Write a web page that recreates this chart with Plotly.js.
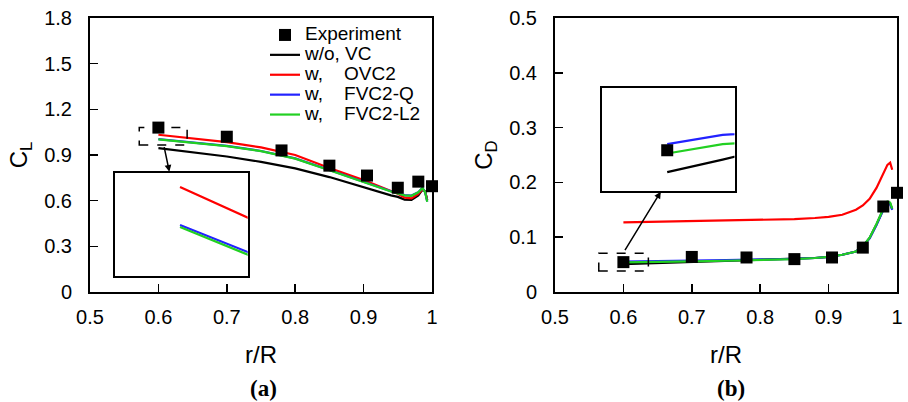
<!DOCTYPE html>
<html><head><meta charset="utf-8">
<script src="https://cdn.plot.ly/plotly-3.0.1.min.js"></script>
<style>html,body{margin:0;padding:0;background:#fff}#chart{width:908px;height:402px}</style>
</head><body><div id="chart"></div>
<script>
// ---- data ----
const rSim     = [0.6, 0.65, 0.7, 0.75, 0.8, 0.85, 0.88, 0.9, 0.92, 0.94, 0.95, 0.96, 0.97, 0.98, 0.986, 0.99, 0.993];
const clNoVC   = [0.945, 0.920, 0.890, 0.855, 0.812, 0.755, 0.715, 0.685, 0.660, 0.635, 0.625, 0.607, 0.605, 0.635, 0.672, 0.660, 0.604];
const clOVC2   = [1.033, 1.008, 0.984, 0.950, 0.900, 0.815, 0.768, 0.735, 0.700, 0.662, 0.645, 0.620, 0.615, 0.645, 0.675, 0.660, 0.605];
const clFVC2Q  = [1.0045, 0.9825, 0.9595, 0.9265, 0.8775, 0.8015, 0.7535, 0.7235, 0.6915, 0.6615, 0.6495, 0.6365, 0.6335, 0.656, 0.684, 0.656, 0.594];
const clFVC2L2 = [1.003, 0.981, 0.958, 0.925, 0.876, 0.800, 0.752, 0.722, 0.690, 0.660, 0.648, 0.635, 0.632, 0.655, 0.683, 0.655, 0.593];

const cdNoVC   = [0.051, 0.053, 0.0552, 0.0574, 0.0584, 0.0602, 0.062, 0.064, 0.068, 0.074, 0.083, 0.0985, 0.123, 0.151, 0.1635, 0.1615, 0.151];
const cdOVC2   = [0.127, 0.128, 0.129, 0.130, 0.131, 0.133, 0.135, 0.137, 0.141, 0.150, 0.158, 0.170, 0.190, 0.215, 0.232, 0.236, 0.223];
const cdFVC2Q  = [0.0555, 0.057, 0.0575, 0.058, 0.059, 0.0605, 0.062, 0.064, 0.068, 0.074, 0.083, 0.098, 0.122, 0.150, 0.162, 0.160, 0.150];
const cdFVC2L2 = [0.054, 0.0555, 0.056, 0.057, 0.058, 0.060, 0.062, 0.064, 0.068, 0.074, 0.083, 0.099, 0.124, 0.152, 0.165, 0.163, 0.152];

const rExp  = [0.6, 0.7, 0.78, 0.85, 0.905, 0.95, 0.98, 1.0];
const clExp = [1.08, 1.02, 0.93, 0.83, 0.765, 0.685, 0.725, 0.695];
const cdExp = [0.0545, 0.064, 0.063, 0.060, 0.063, 0.081, 0.156, 0.181];

const seriesNames = ['Experiment', 'w/o, VC', 'w,\u00a0\u00a0\u00a0\u00a0OVC2', 'w,\u00a0\u00a0\u00a0\u00a0FVC2-Q', 'w,\u00a0\u00a0\u00a0\u00a0FVC2-L2'];
const seriesColors = ['#000000', '#000000', '#ff0000', '#2222ff', '#22d022'];

const xTickVals = [0.5, 0.6, 0.7, 0.8, 0.9, 1.0];
const xTickText = ['0.5', '0.6', '0.7', '0.8', '0.9', '1'];
const clTickVals = [0, 0.3, 0.6, 0.9, 1.2, 1.5, 1.8];
const clTickText = ['0', '0.3', '0.6', '0.9', '1.2', '1.5', '1.8'];
const cdTickVals = [0, 0.1, 0.2, 0.3, 0.4, 0.5];
const cdTickText = ['0', '0.1', '0.2', '0.3', '0.4', '0.5'];

// zoom windows (data coords) and inset ranges
const clZoomBox = {x: [0.572, 0.642], y: [0.966, 1.08]};
const cdZoomBox = {x: [0.564, 0.6365], y: [0.0383, 0.0706]};
const clInsetX = [0.5559, 0.6459], clInsetY = [0.9663, 1.0438];
const cdInsetX = [0.5407, 0.6607], cdInsetY = [0.048, 0.0645];

// ---- build ----
const FONT = 'Liberation Sans, Arial, Helvetica, sans-serif';
const simCL = [clNoVC, clOVC2, clFVC2Q, clFVC2L2];
const simCD = [cdNoVC, cdOVC2, cdFVC2Q, cdFVC2L2];
const traces = [];
function addSet(xa, ya, sims, exp, legend, clipExp) {
  sims.forEach((ys, i) => {
    traces.push({x: rSim, y: ys, xaxis: xa, yaxis: ya, mode: 'lines', type: 'scatter',
      name: '<span style="font-size:19px">' + seriesNames[i + 1] + '</span>',
      legendgroup: 'g' + i, showlegend: legend, legendrank: i + 2,
      line: {color: seriesColors[i + 1], width: 2.2}, hoverinfo: 'skip'});
  });
  if (exp) traces.push({x: rExp, y: exp, xaxis: xa, yaxis: ya, mode: 'markers', type: 'scatter',
      name: '<span style="font-size:19px">' + seriesNames[0] + '</span>',
      legendgroup: 'exp', showlegend: legend, legendrank: 1, cliponaxis: clipExp,
      marker: {symbol: 'square', size: 12, color: seriesColors[0]}, hoverinfo: 'skip'});
}
addSet('x', 'y', simCL, clExp, true, false);
addSet('x2', 'y2', simCD, cdExp, false, false);
addSet('x3', 'y3', simCL, null, false, true);
addSet('x4', 'y4', simCD, cdExp, false, true);

const W = 908, H = 402;
function mainX(dom) {
  return {domain: dom, range: [0.5, 1], tickvals: xTickVals, ticktext: xTickText,
    ticks: 'inside', ticklen: 8, tickwidth: 1.5, tickcolor: '#000',
    showline: true, mirror: true, linewidth: 2, linecolor: '#000', showgrid: false, zeroline: false,
    tickfont: {family: FONT, size: 20, color: '#000'}, ticklabelstandoff: 6,
    title: {text: 'r/R', font: {family: FONT, size: 24, color: '#000'}, standoff: 19}, fixedrange: true};
}
function mainY(dom, rng, tv, tt, ttl) {
  return {domain: dom, range: rng, tickvals: tv, ticktext: tt,
    ticks: 'inside', ticklen: 8, tickwidth: 1.5, tickcolor: '#000',
    showline: true, mirror: true, linewidth: 2, linecolor: '#000', showgrid: false, zeroline: false,
    tickfont: {family: FONT, size: 20, color: '#000'}, ticklabelstandoff: 12,
    title: {text: ttl, font: {family: FONT, size: 24, color: '#000'}, standoff: 10}, fixedrange: true};
}
function insetAx(dom, rng, anchor) {
  return {domain: dom, range: rng, anchor: anchor, showline: true, mirror: true, linewidth: 2, linecolor: '#000',
    showticklabels: false, ticks: '', showgrid: false, zeroline: false, fixedrange: true};
}
const yDom = [1 - 292 / H, 1 - 18 / H];
const layout = {
  width: W, height: H, margin: {l: 0, r: 0, t: 0, b: 0},
  paper_bgcolor: '#fff', plot_bgcolor: '#fff',
  xaxis: Object.assign(mainX([90 / W, 432 / W]), {anchor: 'y'}),
  yaxis: Object.assign(mainY(yDom, [0, 1.8], clTickVals, clTickText, 'C<sub>L</sub>'), {anchor: 'x'}),
  xaxis2: Object.assign(mainX([555 / W, 897 / W]), {anchor: 'y2'}),
  yaxis2: Object.assign(mainY(yDom, [0, 0.5], cdTickVals, cdTickText, 'C<sub>D</sub>'), {anchor: 'x2'}),
  xaxis3: insetAx([115 / W, 247.7 / W], clInsetX, 'y3'),
  yaxis3: insetAx([1 - 276 / H, 1 - 172.5 / H], clInsetY, 'x3'),
  xaxis4: insetAx([601.5 / W, 734.5 / W], cdInsetX, 'y4'),
  yaxis4: insetAx([1 - 190.7 / H, 1 - 88.3 / H], cdInsetY, 'x4'),
  showlegend: true,
  legend: {x: 265 / W, y: 1 - 20 / H, xanchor: 'left', yanchor: 'top', bgcolor: 'rgba(0,0,0,0)',
    borderwidth: 0, font: {family: FONT, size: 13, color: '#000'}, traceorder: 'normal'},
  shapes: [
    {type: 'rect', xref: 'x', yref: 'y', x0: clZoomBox.x[0], x1: clZoomBox.x[1], y0: clZoomBox.y[0], y1: clZoomBox.y[1],
      line: {color: '#000', width: 1.5, dash: 'dash'}},
    {type: 'rect', xref: 'x2', yref: 'y2', x0: cdZoomBox.x[0], x1: cdZoomBox.x[1], y0: cdZoomBox.y[0], y1: cdZoomBox.y[1],
      line: {color: '#000', width: 1.5, dash: 'dash'}}
  ],
  annotations: [
    {xref: 'x', yref: 'y', axref: 'x', ayref: 'y', x: 0.616, y: 0.79, ax: 0.608, ay: 0.962, text: '',
      showarrow: true, arrowhead: 2, arrowsize: 0.9, arrowwidth: 1.5, arrowcolor: '#000'},
    {xref: 'x2', yref: 'y2', axref: 'x2', ayref: 'y2', x: 0.6547, y: 0.183, ax: 0.601, ay: 0.0735, text: '',
      showarrow: true, arrowhead: 2, arrowsize: 0.9, arrowwidth: 1.5, arrowcolor: '#000'},
    {xref: 'paper', yref: 'paper', x: 263 / W, y: 1 - 388 / H, xanchor: 'center', yanchor: 'middle',
      text: '<b>(a)</b>', showarrow: false,
      font: {family: 'Liberation Serif, Times New Roman, serif', size: 23, color: '#000'}},
    {xref: 'paper', yref: 'paper', x: 731 / W, y: 1 - 388 / H, xanchor: 'center', yanchor: 'middle',
      text: '<b>(b)</b>', showarrow: false,
      font: {family: 'Liberation Serif, Times New Roman, serif', size: 23, color: '#000'}}
  ]
};
Plotly.newPlot('chart', traces, layout, {staticPlot: true, displayModeBar: false});
</script></body></html>
